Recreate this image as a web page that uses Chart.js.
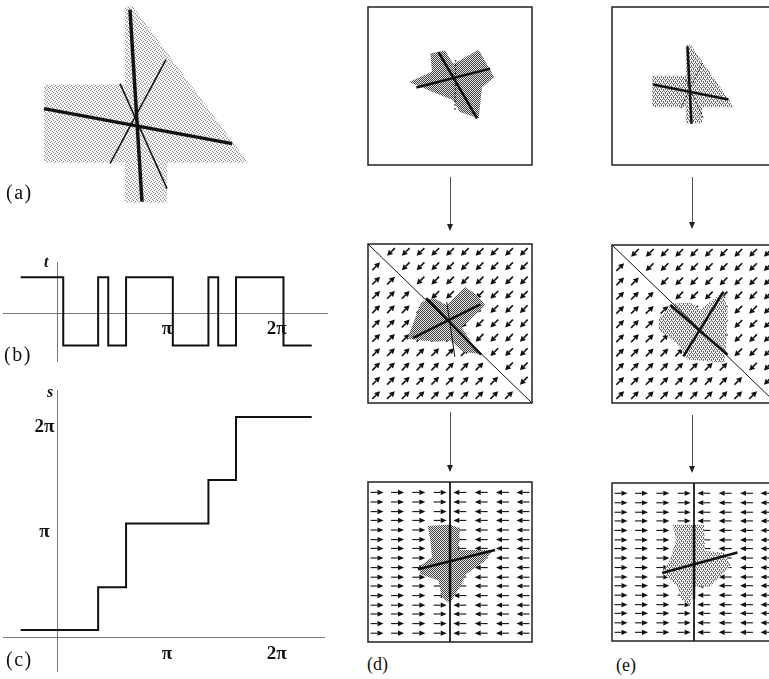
<!DOCTYPE html>
<html>
<head>
<meta charset="utf-8">
<script src="https://cdn.jsdelivr.net/npm/chart.js@4.4.0/dist/chart.umd.min.js"></script>
<style>
  html, body { margin: 0; padding: 0; background: #fff; width: 769px; height: 679px; overflow: hidden; }
  canvas { position: absolute; }
  .lbl { position: absolute; font-family: "Liberation Serif", "DejaVu Serif", serif; color: #111; line-height: 1; white-space: nowrap; }
  .big { font-size: 20px; letter-spacing: 1.5px; }
  .small { font-size: 18px; }
  .var { font-size: 16px; font-style: italic; font-weight: bold; }
  .link { position: absolute; width: 0; border-left: 1px solid #555; }
  .link::after { content: ""; position: absolute; top: 100%; left: -4px; border-top: 7px solid #222;
                 border-left: 3.5px solid transparent; border-right: 3.5px solid transparent; }
</style>
</head>
<body>
<canvas id="pa" width="240" height="211" style="left:17px;top:0px"></canvas>
<canvas id="pb" width="325" height="100" style="left:3px;top:262px"></canvas>
<canvas id="pc" width="322" height="282" style="left:3px;top:390px"></canvas>
<canvas id="dTop"></canvas>
<canvas id="dMid"></canvas>
<canvas id="dBot"></canvas>
<canvas id="eTop"></canvas>
<canvas id="eMid"></canvas>
<canvas id="eBot"></canvas>

<div class="lbl big" style="left:6px;top:182px">(a)</div>
<div class="lbl big" style="left:4px;top:344px">(b)</div>
<div class="lbl big" style="left:6px;top:649px">(c)</div>
<div class="lbl small" style="left:367px;top:655px">(d)</div>
<div class="lbl small" style="left:616px;top:656px">(e)</div>
<div class="lbl var" style="left:44px;top:254px">t</div>
<div class="lbl var" style="left:47px;top:384px">s</div>

<div class="link" style="left:450px;top:177px;height:47px"></div>
<div class="link" style="left:450px;top:412px;height:53px"></div>
<div class="link" style="left:692px;top:177px;height:45px"></div>
<div class="link" style="left:692px;top:415px;height:51px"></div>

<script>
// (b) t against the angle, (c) s against the angle
const bAngle = [-1.05, 0.17, 1.17, 1.46, 1.97, 3.31, 4.33, 4.61, 5.12, 6.48, 7.29];
const bT = [1, -0.93, 1, -0.93, 1, -0.93, 1, -0.93, 1, -0.93, -0.93];
const cAngle = [-1.05, 1.17, 1.97, 4.33, 5.12, 7.29];
const cS = [0.20, 1.48, 3.39, 4.69, 6.58, 6.58];
const piTicks = [Math.PI, 2 * Math.PI];
const piLabels = ["π", "2π"];

// (a) the shape and its lines
const aShapeX = [-0.12, -0.04, 1.11, 0.30, 0.30, -0.12, -0.12, -0.93, -0.93, -0.12];
const aShapeY = [1.19, 1.19, -0.37, -0.37, -0.77, -0.77, -0.37, -0.37, 0.41, 0.41];
const aMajorX = [[-0.07, 0.05], [-0.93, 0.95]];
const aMajorY = [[1.16, -0.76], [0.17, -0.18]];
const aMinorX = [[-0.17, 0.30], [0.29, -0.27]];
const aMinorY = [[0.42, -0.63], [0.66, -0.38]];

// column (d)
const dTopShapeX = [-0.50, -0.22, -0.24, -0.06, 0.04, 0.35, 0.54, 0.39, 0.35, 0.12, 0.04, -0.18];
const dTopShapeY = [0.05, 0.18, 0.41, 0.45, 0.28, 0.46, 0.11, -0.02, -0.41, -0.33, -0.18, -0.09];
const dTopMajorX = [[-0.41, 0.49], [-0.14, 0.33]];
const dTopMajorY = [[-0.02, 0.22], [0.43, -0.41]];
const dTopMinorX = [[0.07, 0.06]];
const dTopMinorY = [[0.33, -0.31]];

const dMidShapeX = [-0.52, -0.35, -0.20, -0.04, 0.18, 0.33, 0.43, 0.24, 0.14, 0.35, 0.16, 0.0, -0.16, -0.37];
const dMidShapeY = [-0.19, 0.27, 0.32, 0.23, 0.46, 0.36, 0.23, 0.04, -0.04, -0.38, -0.36, -0.21, -0.23, -0.21];
const dMidMajorX = [[-0.45, 0.37], [-0.29, 0.38]];
const dMidMajorY = [[-0.18, 0.24], [0.32, -0.39]];
const dMidMinorX = [[-0.04, 0.06]];
const dMidMinorY = [[0.27, -0.42]];

const dBotShapeX = [-0.27, 0, 0.12, 0.10, 0.53, 0.41, 0.20, 0.12, 0, -0.10, -0.14, -0.37, -0.35, -0.22, -0.24];
const dBotShapeY = [0.45, 0.47, 0.42, 0.15, 0.15, 0.0, -0.15, -0.31, -0.52, -0.44, -0.23, -0.15, -0.04, 0.06, 0.27];
const dBotMajorX = [[-0.39, 0.55], [0, 0]];
const dBotMajorY = [[-0.09, 0.15], [0.46, -0.44]];

// column (e)
const eTopShapeX = [-0.10, -0.04, 0.49, 0.10, 0.10, -0.10, -0.10, -0.51, -0.51, -0.10];
const eTopShapeY = [0.52, 0.52, -0.27, -0.27, -0.47, -0.47, -0.27, -0.27, 0.13, 0.13];
const eTopMajorX = [[-0.08, -0.03], [-0.50, 0.42]];
const eTopMajorY = [[0.50, -0.48], [0.02, -0.17]];
const eTopMinorX = [[0.10, -0.16], [-0.10, 0.11]];
const eTopMinorY = [[0.29, -0.28], [0.08, -0.40]];

const eMidShapeX = [-0.43, -0.26, -0.04, 0.08, 0.35, 0.41, 0.39, 0.37, 0.16, -0.08, -0.20, -0.43];
const eMidShapeY = [0.07, 0.26, 0.27, 0.18, 0.41, 0.18, -0.28, -0.49, -0.47, -0.45, -0.26, -0.07];
const eMidMajorX = [[-0.29, 0.41], [-0.13, 0.36]];
const eMidMajorY = [[0.24, -0.39], [-0.41, 0.41]];

const eBotShapeX = [-0.26, 0.12, 0.14, 0.37, 0.45, 0.20, -0.02, -0.04, -0.16, -0.20, -0.39, -0.29, -0.22];
const eBotShapeY = [0.47, 0.47, 0.14, 0.12, -0.05, -0.31, -0.31, -0.56, -0.47, -0.31, -0.14, 0.03, 0.28];
const eBotMajorX = [[-0.39, 0.53], [0, 0]];
const eBotMajorY = [[-0.14, 0.12], [0.47, -0.47]];

// vector fields: u = up-right, d = down-left, r = right, l = left, . = none
const midDiagX = [-1, 1];
const midDiagY = [1, -1];
const midGridX = [-0.9, -0.72, -0.54, -0.36, -0.18, 0, 0.18, 0.36, 0.54, 0.72, 0.9];
const midGridY = [0.9, 0.72, 0.54, 0.36, 0.18, 0, -0.18, -0.36, -0.54, -0.72, -0.9];
const midField = [
  ".dddddddddd",
  "u.ddddddddd",
  "uu.dddddddd",
  "uuu.ddddddd",
  "uuuu.dddddd",
  "uuuuu.ddddd",
  "uuuuuu.dddd",
  "uuuuuuu.ddd",
  "uuuuuuuu.dd",
  "uuuuuuuuu.d",
  "uuuuuuuuuu."
];
const botAxisX = [0, 0];
const botAxisY = [1, -1];
const botGridX = [-0.89, -0.64, -0.38, -0.12, 0.12, 0.38, 0.64, 0.89];
const botGridY = [0.87, 0.75, 0.63, 0.52, 0.40, 0.28, 0.17, 0.05, -0.07, -0.19, -0.30, -0.42, -0.54, -0.65, -0.77, -0.89];
const botField = [
  "rrrrllll", "rrrrllll", "rrrrllll", "rrrrllll",
  "rrrrllll", "rrrrllll", "rrrrllll", "rrrrllll",
  "rrrrllll", "rrrrllll", "rrrrllll", "rrrrllll",
  "rrrrllll", "rrrrllll", "rrrrllll", "rrrrllll"
];

// ---------- plugins ----------
const dirs = { u: [1, -1], d: [-1, 1], r: [1, 0], l: [-1, 0] };

const quiver = {
  id: "quiver",
  beforeDatasetsDraw(chart, args, o) {
    if (!o.rows) return;
    const { ctx, scales: { x, y } } = chart;
    ctx.save();
    ctx.strokeStyle = "#111";
    ctx.fillStyle = "#111";
    ctx.lineWidth = o.stroke;
    o.rows.forEach((row, i) => {
      row.split("").forEach((c, j) => {
        const d = dirs[c];
        if (!d) return;
        const n = Math.hypot(d[0], d[1]), ux = d[0] / n, uy = d[1] / n;
        const cx = x.getPixelForValue(o.xs[j]), cy = y.getPixelForValue(o.ys[i]);
        const tx = cx + ux * o.len / 2, ty = cy + uy * o.len / 2;
        const bx = tx - ux * o.head, by = ty - uy * o.head;
        ctx.beginPath();
        ctx.moveTo(cx - ux * o.len / 2, cy - uy * o.len / 2);
        ctx.lineTo(bx, by);
        ctx.stroke();
        ctx.beginPath();
        ctx.moveTo(tx, ty);
        ctx.lineTo(bx - uy * o.spread, by + ux * o.spread);
        ctx.lineTo(bx + uy * o.spread, by - ux * o.spread);
        ctx.closePath();
        ctx.fill();
      });
    });
    ctx.restore();
  }
};

const frame = {
  id: "frame",
  afterDatasetsDraw(chart, args, o) {
    if (!o.box) return;
    const { ctx, scales: { x, y } } = chart;
    const l = x.getPixelForValue(-1), r = x.getPixelForValue(1);
    const t = y.getPixelForValue(1), b = y.getPixelForValue(-1);
    ctx.save();
    ctx.strokeStyle = "#222";
    ctx.lineWidth = 1.5;
    ctx.strokeRect(l, t, r - l, b - t);
    ctx.restore();
  }
};

const crossAxes = {
  id: "crossAxes",
  beforeDatasetsDraw(chart, args, o) {
    if (!o.xTicks) return;
    const { ctx, chartArea: a, scales: { x, y } } = chart;
    const x0 = Math.round(x.getPixelForValue(0)) + 0.5;
    const y0 = Math.round(y.getPixelForValue(0)) + 0.5;
    ctx.save();
    ctx.strokeStyle = "#777";
    ctx.lineWidth = 1;
    ctx.beginPath();
    ctx.moveTo(a.left, y0); ctx.lineTo(a.right, y0);
    ctx.moveTo(x0, a.top); ctx.lineTo(x0, a.bottom);
    ctx.stroke();
    ctx.fillStyle = "#111";
    ctx.font = o.font;
    ctx.textAlign = "center";
    ctx.textBaseline = "alphabetic";
    o.xTicks.forEach((v, i) => ctx.fillText(o.xLabels[i], x.getPixelForValue(v), y0 + o.xDy));
    ctx.textBaseline = "middle";
    (o.yTicks || []).forEach((v, i) => ctx.fillText(o.yLabels[i], x0 + o.yDx, y.getPixelForValue(v)));
    ctx.restore();
  }
};

Chart.register(quiver, frame, crossAxes);

// ---------- helpers ----------
function stipple(bg, dot, cells) {
  const c = document.createElement("canvas");
  c.width = c.height = 4;
  const g = c.getContext("2d");
  g.fillStyle = bg;
  g.fillRect(0, 0, 4, 4);
  g.fillStyle = dot;
  cells.forEach(([i, j]) => g.fillRect(i, j, 1, 1));
  return g.createPattern(c, "repeat");
}
const lightDots = stipple("#f5f5f5", "#8a8a8a", [[0, 0], [2, 1], [1, 2], [3, 3]]);
const darkDots = stipple("#e2e2e2", "#444", [[0, 0], [2, 0], [1, 1], [3, 1], [0, 2], [2, 2], [1, 3], [3, 3]]);
const midDots = stipple("#eeeeee", "#666", [[0, 0], [2, 0], [1, 2], [3, 2], [1, 1], [3, 3]]);

const pts = (xs, ys) => xs.map((x, i) => ({ x, y: ys[i] }));
const ring = (xs, ys) => pts(xs.concat(xs[0]), ys.concat(ys[0]));

function shapeSet(xs, ys, pattern) {
  return { data: ring(xs, ys), showLine: true, fill: "shape", backgroundColor: pattern,
           borderColor: "rgba(0,0,0,0)", borderWidth: 0, order: 3 };
}
function lineSets(xss, yss, width, dash, order) {
  return xss.map((xs, i) => ({ data: pts(xs, yss[i]), showLine: true, fill: false,
           borderColor: "#111", borderWidth: width, borderDash: dash || [], order: order || 1 }));
}

function baseOptions(xmin, xmax, ymin, ymax, extra) {
  return {
    responsive: false, maintainAspectRatio: false, animation: false, events: [],
    layout: { padding: 0 },
    elements: { point: { radius: 0, hoverRadius: 0 }, line: { tension: 0 } },
    scales: {
      x: { type: "linear", display: false, bounds: "data", min: xmin, max: xmax },
      y: { type: "linear", display: false, bounds: "data", min: ymin, max: ymax }
    },
    plugins: Object.assign({ legend: { display: false }, tooltip: { enabled: false } }, extra)
  };
}

function boxChart(id, box, datasets, extra) {
  const m = 4;
  const W = Math.min(box.w + 2 * m, 769 - (box.left - m));
  const H = box.h + 2 * m;
  const cv = document.getElementById(id);
  cv.width = W; cv.height = H;
  cv.style.left = (box.left - m) + "px";
  cv.style.top = (box.top - m) + "px";
  const ux = box.w / 2, uy = box.h / 2;
  const xmin = -1 - m / ux, xmax = xmin + W / ux;
  const ymax = 1 + m / uy, ymin = ymax - H / uy;
  return new Chart(cv, {
    type: "scatter",
    data: { datasets },
    options: baseOptions(xmin, xmax, ymin, ymax, Object.assign({ frame: { box: true } }, extra))
  });
}

const midArrows = { xs: midGridX, ys: midGridY, rows: midField, len: 11, head: 5.5, spread: 3, stroke: 1.6 };
const botArrows = { xs: botGridX, ys: botGridY, rows: botField, len: 13, head: 6, spread: 2.6, stroke: 1.1 };

// ---------- (a) ----------
new Chart(document.getElementById("pa"), {
  type: "scatter",
  data: {
    datasets: [
      ...lineSets(aMajorX, aMajorY, 3.5),
      ...lineSets(aMinorX, aMinorY, 1.5),
      shapeSet(aShapeX, aShapeY, lightDots)
    ]
  },
  options: baseOptions(-1.2, 1.2, -0.854, 1.256)
});

// ---------- (b) ----------
new Chart(document.getElementById("pb"), {
  type: "scatter",
  data: {
    datasets: [{ data: pts(bAngle, bT), showLine: true, stepped: true, fill: false,
                 borderColor: "#111", borderWidth: 2 }]
  },
  options: baseOptions(-1.556, 7.756, -1.393, 1.432, {
    crossAxes: { xTicks: piTicks, xLabels: piLabels, xDy: 20.5, font: "bold 19px 'Liberation Serif', serif" }
  })
});

// ---------- (c) ----------
new Chart(document.getElementById("pc"), {
  type: "scatter",
  data: {
    datasets: [{ data: pts(cAngle, cS), showLine: true, stepped: true, fill: false,
                 borderColor: "#111", borderWidth: 2 }]
  },
  options: baseOptions(-1.556, 7.670, -1.057, 7.386, {
    crossAxes: { xTicks: piTicks, xLabels: piLabels, xDy: 21.5,
                 yTicks: piTicks, yLabels: piLabels, yDx: -13,
                 font: "bold 19px 'Liberation Serif', serif" }
  })
});

// ---------- column (d) ----------
boxChart("dTop", { left: 368, top: 7, w: 164, h: 158 }, [
  ...lineSets(dTopMajorX, dTopMajorY, 2.5),
  ...lineSets(dTopMinorX, dTopMinorY, 1, [2, 2]),
  shapeSet(dTopShapeX, dTopShapeY, darkDots)
]);

boxChart("dMid", { left: 368, top: 244, w: 164, h: 159 }, [
  ...lineSets(dMidMajorX, dMidMajorY, 2.5),
  ...lineSets(dMidMinorX, dMidMinorY, 1),
  ...lineSets([midDiagX], [midDiagY], 1, null, 2),
  shapeSet(dMidShapeX, dMidShapeY, darkDots)
], { quiver: midArrows });

boxChart("dBot", { left: 368, top: 482, w: 164, h: 160 }, [
  ...lineSets(dBotMajorX, dBotMajorY, 2.5),
  ...lineSets([botAxisX], [botAxisY], 1, null, 2),
  shapeSet(dBotShapeX, dBotShapeY, darkDots)
], { quiver: botArrows });

// ---------- column (e) ----------
boxChart("eTop", { left: 612, top: 7, w: 164, h: 158 }, [
  ...lineSets(eTopMajorX, eTopMajorY, 2.5),
  ...lineSets(eTopMinorX, eTopMinorY, 1, [2, 2]),
  shapeSet(eTopShapeX, eTopShapeY, midDots)
]);

boxChart("eMid", { left: 612, top: 245, w: 164, h: 158 }, [
  ...lineSets(eMidMajorX, eMidMajorY, 2.5),
  ...lineSets([midDiagX], [midDiagY], 1, null, 2),
  shapeSet(eMidShapeX, eMidShapeY, midDots)
], { quiver: midArrows });

boxChart("eBot", { left: 612, top: 483, w: 164, h: 158 }, [
  ...lineSets(eBotMajorX, eBotMajorY, 2.5),
  ...lineSets([botAxisX], [botAxisY], 1, null, 2),
  shapeSet(eBotShapeX, eBotShapeY, midDots)
], { quiver: botArrows });
</script>
</body>
</html>
